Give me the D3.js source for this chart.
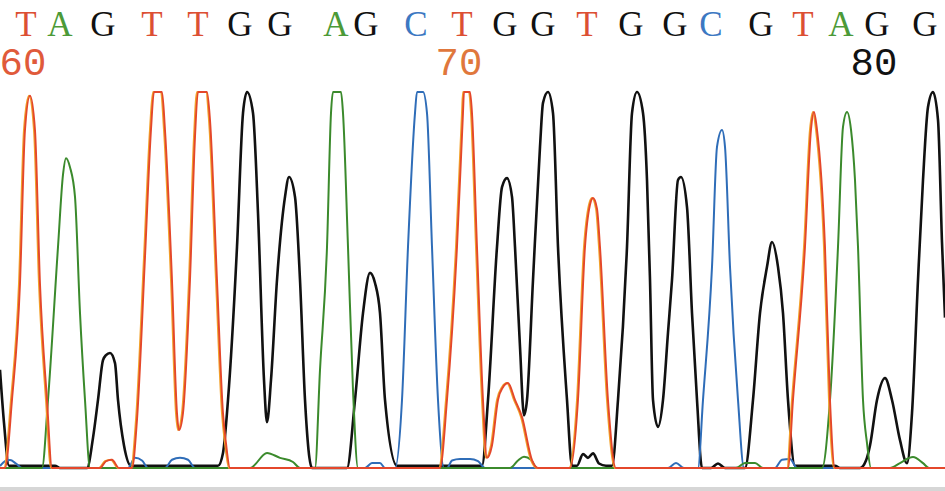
<!DOCTYPE html>
<html><head><meta charset="utf-8">
<script src="https://cdn.jsdelivr.net/npm/d3@7"></script>
<style>html,body{margin:0;padding:0;background:#fff;overflow:hidden}</style>
</head><body>
<svg id="chart" width="945" height="491"></svg>
<script>
// Base calls (letter) and their scan positions
const calls = ["T","A","G","T","T","G","G","A","G","C","T","G","G","T","G","G","C","G","T","A","G","G"];
const callScan = [26,60,103,152,198,240,280,336,366,416,462,505,543,587,631,675,711,761,803,841,877,925];
// Position labels: base index and sequence number
const posLabelIndex = [0, 10, 20];
const posLabels = ["60", "70", "80"];

// Traces: [scan, intensity] (intensity clipped at 1000)
const traceG = [[0,261],[4,120],[9,6],[55,6],[60,0],[87,0],[93,80],[98,181],[103,287],[106,300],[110,306],[115,279],[118,181],[124,60],[131,6],[218,6],[223,40],[228,181],[237,588],[243,944],[247,1000],[253,944],[258,678],[264,234],[267,122],[271,234],[277,500],[285,721],[289,774],[295,721],[300,500],[305,181],[312,0],[347,0],[355,181],[363,412],[370,519],[375,492],[380,412],[385,181],[397,6],[482,6],[488,181],[497,588],[502,747],[507,771],[512,721],[515,588],[520,322],[524,140],[527,181],[533,500],[540,854],[543,971],[548,1000],[553,944],[558,588],[567,181],[572,6],[577,6],[583,37],[588,27],[593,39],[599,12],[606,6],[612,6],[618,181],[627,588],[632,944],[637,1000],[643,944],[647,766],[650,500],[653,181],[658,109],[663,181],[668,360],[672,500],[678,766],[681,774],[687,694],[692,412],[697,181],[702,0],[711,0],[718,12],[725,0],[745,0],[753,181],[760,412],[767,535],[772,601],[778,535],[783,412],[788,181],[795,6],[835,6],[840,0],[860,0],[866,20],[870,60],[877,181],[885,239],[892,181],[900,74],[907,13],[912,146],[918,500],[923,766],[928,960],[933,1000],[938,926],[942,600],[945,400]];
const traceT = [[0,0],[5,0],[12,181],[20,490],[25,899],[30,990],[35,899],[40,490],[47,181],[52,0],[100,0],[106,18],[112,22],[119,0],[132,0],[137,128],[145,560],[151,900],[154,1000],[162,1000],[165,899],[172,500],[177,146],[179,101],[183,146],[190,500],[195,880],[198,1000],[207,1000],[210,926],[217,500],[223,146],[226,66],[230,0],[440,0],[447,181],[457,588],[463,944],[464,1000],[470,1000],[472,944],[477,588],[483,181],[487,27],[492,60],[498,181],[503,215],[508,226],[515,181],[522,136],[532,21],[538,0],[570,0],[578,181],[585,588],[590,700],[593,718],[597,690],[600,588],[608,181],[616,0],[788,0],[793,181],[805,588],[811,900],[814,947],[817,900],[825,588],[830,181],[835,0],[945,0]];
const traceA = [[0,0],[42,0],[48,181],[58,588],[63,780],[66,824],[70,800],[75,721],[80,412],[85,181],[90,0],[250,0],[267,40],[280,27],[293,16],[300,0],[315,0],[320,261],[327,588],[331,944],[333,1000],[341,1000],[343,944],[348,588],[353,207],[358,0],[510,0],[518,20],[524,30],[531,22],[537,0],[736,0],[745,13],[755,13],[763,0],[822,0],[830,181],[838,588],[843,907],[847,947],[851,900],[855,766],[858,588],[863,181],[867,66],[871,0],[890,0],[900,13],[913,29],[923,13],[929,0],[945,0]];
const traceC = [[0,5],[5,18],[10,21],[16,12],[22,0],[128,0],[135,27],[142,20],[148,0],[165,0],[172,22],[180,27],[188,22],[195,0],[365,0],[372,13],[380,13],[385,0],[395,0],[402,181],[408,588],[415,944],[417,1000],[423,1000],[427,944],[432,588],[438,181],[444,0],[447,0],[452,20],[460,24],[470,24],[478,18],[485,0],[668,0],[676,13],[684,0],[698,0],[703,181],[712,535],[717,854],[722,899],[725,854],[730,535],[738,181],[744,0],[775,0],[782,22],[790,24],[797,0],[945,0]];

const baseColor = {T:"#dc4f33", A:"#4c9a38", G:"#111111", C:"#3c78c2"};

const svg = d3.select("#chart");
const x = d3.scaleLinear().domain([0, 945]).range([0, 945]);
const y = d3.scaleLinear().domain([0, 1000]).range([468, 92]);

// bottom grey strip
svg.append("rect").attr("x", 0).attr("y", 487).attr("width", 945).attr("height", 4).attr("fill", "#d6d6d6");

const line = d3.line().x(d => x(d[0])).y(d => y(d[1])).curve(d3.curveMonotoneX);

const g = svg.append("g");
g.append("path").datum(traceG).attr("d", line).attr("fill", "none").attr("stroke", "#111").attr("stroke-width", 2.6).attr("stroke-linejoin", "round");
g.append("path").datum(traceC).attr("d", line).attr("fill", "none").attr("stroke", "#2f6db8").attr("stroke-width", 2).attr("stroke-linejoin", "round");
g.append("path").datum(traceA).attr("d", line).attr("fill", "none").attr("stroke", "#3b8a2c").attr("stroke-width", 2).attr("stroke-linejoin", "round");
g.append("path").datum(traceT).attr("d", line).attr("fill", "none").attr("stroke", "#f2a22a").attr("stroke-width", 2).attr("transform", "translate(-1,0)").attr("stroke-linejoin", "round");
g.append("path").datum(traceT).attr("d", line).attr("fill", "none").attr("stroke", "#e4472b").attr("stroke-width", 1.9).attr("stroke-linejoin", "round");

// base call letters
svg.append("g").selectAll("text").data(calls).join("text")
  .attr("x", (d, i) => x(callScan[i]))
  .attr("y", 36)
  .attr("text-anchor", "middle")
  .attr("font-family", "'Liberation Serif', 'DejaVu Serif', serif")
  .attr("font-size", 35)
  .attr("fill", d => baseColor[d])
  .text(d => d);

// position numbers
const numColors = ["#e05a3a", "#e0773c", "#111111"];
svg.append("g").selectAll("text").data(posLabels).join("text")
  .attr("x", (d, i) => x(callScan[posLabelIndex[i]]) - 3)
  .attr("y", 75)
  .attr("text-anchor", "middle")
  .attr("font-family", "'Liberation Mono', 'DejaVu Sans Mono', monospace")
  .attr("font-size", 39)
  .attr("fill", (d, i) => numColors[i])
  .text(d => d);
</script>
</body></html>
